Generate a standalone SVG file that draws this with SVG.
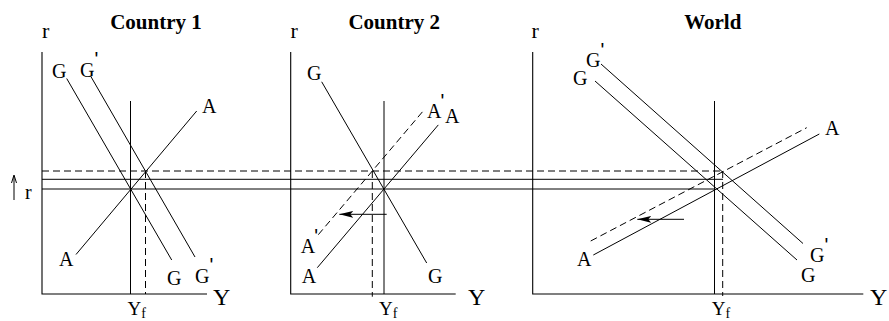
<svg xmlns="http://www.w3.org/2000/svg" width="889" height="321" viewBox="0 0 889 321">
<style>
.ln{stroke:#000;stroke-width:1;fill:none}
.ax{stroke:#000;stroke-width:1.1;fill:none}
.ds{stroke:#000;stroke-width:1;fill:none;stroke-dasharray:7 4}
.lb{font-family:"Liberation Serif","Times New Roman",serif;font-size:20px;fill:#000}
.tt{font-family:"Liberation Serif","Times New Roman",serif;font-size:21px;font-weight:bold;fill:#000;text-anchor:middle}
.ay{font-family:"Liberation Serif","Times New Roman",serif;font-size:24px;fill:#000}
.rr{font-family:"Liberation Serif","Times New Roman",serif;font-size:22px;fill:#000}
.yf{font-family:"Liberation Serif","Times New Roman",serif;font-size:19px;fill:#000}
.sub{font-size:14px}
.p{font-family:"Liberation Sans",Arial,sans-serif;font-size:20px}
</style>
<defs>
<marker id="ah" markerUnits="userSpaceOnUse" markerWidth="16" markerHeight="8" refX="14" refY="3.5" orient="auto">
<path d="M0,0 L14,3.5 L0,7 L3,3.5 z" fill="#000"/>
</marker>
</defs>

<g id="connectors">
<line class="ds" x1="42" y1="171" x2="722.7" y2="171"/>
<line class="ln" x1="42" y1="179.3" x2="723" y2="179.3"/>
<line class="ln" x1="42" y1="189" x2="715" y2="189"/>
</g>

<g id="shift-indicator">
<line class="ln" x1="14" y1="176" x2="14" y2="200"/>
<path class="ln" d="M11.5,183 L14,175 L16.5,183"/>
<text class="lb" x="25" y="199.3">r</text>
</g>

<g id="country1">
<text class="tt" x="156" y="28.5">Country 1</text>
<text class="rr" x="42" y="38">r</text>
<path class="ax" d="M42,52 V294 H207"/>
<line class="ln" x1="130.5" y1="101" x2="130.5" y2="294"/>
<line class="ds" x1="145.5" y1="171" x2="145.5" y2="294"/>
<line class="ln" x1="66.7" y1="78.5" x2="171.7" y2="260"/>
<line class="ln" x1="90.7" y1="76.2" x2="195" y2="257"/>
<line class="ln" x1="76" y1="254.5" x2="196.7" y2="111"/>
<text class="lb" x="52" y="78">G</text>
<text class="lb" x="80" y="77">G<tspan class="p" dy="-10.7">'</tspan></text>
<text class="lb" x="202" y="113">A</text>
<text class="lb" x="59" y="266">A</text>
<text class="lb" x="167" y="285">G</text>
<text class="lb" x="195" y="282.7">G<tspan class="p" dy="-10.4">'</tspan></text>
<text class="ay" x="213" y="305">Y</text>
<text class="yf" x="127.5" y="315.2">Y<tspan class="sub" dy="2.6">f</tspan></text>
</g>

<g id="country2">
<text class="tt" x="394.2" y="28.5">Country 2</text>
<text class="rr" x="290.5" y="38">r</text>
<path class="ax" d="M290.7,52 V294 H455.7"/>
<line class="ln" x1="384" y1="101" x2="384" y2="294"/>
<line class="ds" x1="372.3" y1="171" x2="372.3" y2="296.7"/>
<line class="ln" x1="321.7" y1="81.8" x2="426.7" y2="263"/>
<line class="ln" x1="317.3" y1="267.7" x2="438.3" y2="124.9"/>
<line class="ds" x1="318.3" y1="234.7" x2="424" y2="110"/>
<line class="ln" x1="386.7" y1="214.3" x2="339.3" y2="214.3" marker-end="url(#ah)"/>
<text class="lb" x="307" y="80">G</text>
<text class="lb" x="427" y="118">A<tspan class="p" dx="-1" dy="-9.7">'</tspan></text>
<text class="lb" x="445" y="123.3">A</text>
<text class="lb" x="300.7" y="253.3">A<tspan class="p" dx="-1" dy="-10">'</tspan></text>
<text class="lb" x="301.7" y="282.7">A</text>
<text class="lb" x="428" y="283">G</text>
<text class="ay" x="468" y="305">Y</text>
<text class="yf" x="379" y="315.2">Y<tspan class="sub" dy="2.6">f</tspan></text>
</g>

<g id="world">
<text class="tt" x="712.8" y="28.5">World</text>
<text class="rr" x="531.5" y="38">r</text>
<path class="ax" d="M532.7,52 V294 H863.3"/>
<line class="ln" x1="714.5" y1="101" x2="714.5" y2="294"/>
<line class="ds" x1="722.7" y1="171" x2="722.7" y2="296"/>
<line class="ln" x1="595" y1="81" x2="797" y2="260"/>
<line class="ln" x1="601" y1="64" x2="803" y2="243.5"/>
<line class="ln" x1="593.3" y1="255" x2="819.3" y2="134"/>
<line class="ds" x1="590.7" y1="241" x2="806.7" y2="127.7"/>
<line class="ln" x1="684" y1="219.3" x2="637.3" y2="219.3" marker-end="url(#ah)"/>
<text class="lb" x="586" y="67.3">G<tspan class="p" dy="-10.3">'</tspan></text>
<text class="lb" x="573" y="85">G</text>
<text class="lb" x="825" y="135">A</text>
<text class="lb" x="577" y="265.7">A</text>
<text class="lb" x="810" y="261.7">G<tspan class="p" dy="-9.4">'</tspan></text>
<text class="lb" x="801" y="281.7">G</text>
<text class="ay" x="870" y="305">Y</text>
<text class="yf" x="711.7" y="315.2">Y<tspan class="sub" dy="2.6">f</tspan></text>
</g>
</svg>
